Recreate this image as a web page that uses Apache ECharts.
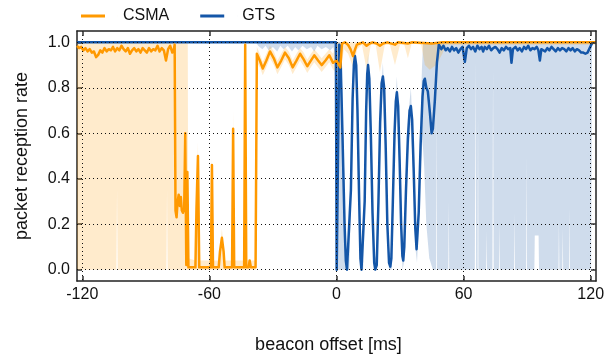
<!DOCTYPE html>
<html><head><meta charset="utf-8">
<script src="https://cdn.jsdelivr.net/npm/echarts@6/dist/echarts.min.js"></script>
<style>html,body{margin:0;padding:0;background:#fff}#c{width:616px;height:360px}</style>
</head><body><div id="c"></div>
<script>
const xTicks = [-120, -60, 0, 60, 120];
const yTicks = [0, 0.2, 0.4, 0.6, 0.8, 1.0];
const seriesNames = ['CSMA', 'GTS'];

const csmaLine = [[-122.5,0.985],[-121.5,0.975],[-120.5,0.98],[-119.5,0.965],[-118.5,0.975],[-117.5,0.96],[-116.5,0.97],[-115.5,0.955],[-114.5,0.96],[-113.5,0.935],[-112.5,0.945],[-111.5,0.965],[-110.5,0.955],[-109.5,0.975],[-108.5,0.96],[-107.5,0.97],[-106.5,0.965],[-105.5,0.98],[-104.5,0.96],[-103.5,0.975],[-102.5,0.965],[-101.5,0.985],[-100.5,0.97],[-99.5,0.96],[-98.5,0.975],[-97.5,0.95],[-96.5,0.965],[-95.5,0.975],[-94.5,0.96],[-93.5,0.97],[-92.5,0.955],[-91.5,0.975],[-90.5,0.965],[-89.5,0.955],[-88.5,0.975],[-87.5,0.96],[-86.5,0.97],[-85.5,0.965],[-84.5,0.985],[-83.5,0.96],[-82.5,0.975],[-81.5,0.965],[-80.5,0.92],[-79.5,0.97],[-78.5,0.985],[-77.5,0.955],[-76.8,0.97],[-76.4,0.99],[-76.0,0.26],[-75.5,0.23],[-75.0,0.30],[-74.5,0.33],[-74.0,0.28],[-73.5,0.32],[-73.0,0.26],[-72.5,0.25],[-71.9,0.27],[-71.4,0.6],[-70.9,0.02],[-70.4,0.43],[-69.9,0.01],[-66.6,0.01],[-66.1,0.27],[-65.4,0.5],[-64.8,0.01],[-59.3,0.01],[-58.8,0.46],[-58.3,0.01],[-55.6,0.01],[-55.0,0.08],[-54.1,0.14],[-53.3,0.08],[-52.8,0.01],[-49.3,0.01],[-48.8,0.62],[-48.3,0.01],[-43.6,0.01],[-43.1,0.99],[-42.6,0.01],[-41.5,0.01],[-41.0,0.04],[-40.4,0.01],[-38.2,0.01],[-37.6,0.95],[-36.2,0.92],[-34.8,0.885],[-33.1,0.92],[-31.4,0.96],[-29.6,0.93],[-27.9,0.89],[-26.1,0.92],[-24.3,0.955],[-22.5,0.93],[-20.7,0.89],[-18.9,0.92],[-17.2,0.95],[-15.5,0.925],[-13.8,0.895],[-12.1,0.92],[-10.5,0.943],[-8.7,0.92],[-7.0,0.90],[-5.2,0.92],[-3.4,0.943],[-1.6,0.91],[0.0,0.92],[1.8,0.89],[2.6,0.995],[4.0,1.0],[5.4,0.99],[6.6,0.97],[7.8,0.94],[8.8,0.97],[9.6,0.99],[11.0,0.995],[12.5,1.0],[14.2,0.985],[15.6,0.995],[17.0,1.0],[19.0,0.995],[20.5,0.985],[22.0,0.995],[24.0,1.0],[27.6,0.99],[29.0,1.0],[33.7,0.995],[35.5,1.0],[45.0,0.995],[50.0,1.0],[122.5,1.0]];

const csmaHigh = [[-122.5,1.0],[-70.2,1.0],[-70.0,0.05],[-66.6,0.04],[-66.1,0.3],[-65.4,0.56],[-64.8,0.04],[-59.3,0.04],[-58.8,0.5],[-58.3,0.04],[-55.6,0.04],[-54.1,0.18],[-52.8,0.04],[-49.3,0.04],[-48.8,0.7],[-48.3,0.04],[-43.6,0.04],[-43.1,1.0],[-42.6,0.04],[-38.2,0.04],[-37.6,0.98],[-36.2,0.95],[-34.8,0.915],[-33.1,0.95],[-31.4,0.985],[-29.6,0.96],[-27.9,0.92],[-26.1,0.95],[-24.3,0.98],[-22.5,0.96],[-20.7,0.92],[-18.9,0.95],[-17.2,0.975],[-15.5,0.955],[-13.8,0.925],[-12.1,0.95],[-10.5,0.97],[-8.7,0.95],[-7.0,0.93],[-5.2,0.95],[-3.4,0.97],[-1.6,0.95],[0.0,1.0],[122.5,1.0]];

const csmaLow = [[-122.5,0],[-103.9,0],[-103.6,0.35],[-103.3,0],[-80.3,0],[-80.0,0.35],[-79.7,0],[-38.2,0],[-37.6,0.91],[-36.2,0.89],[-34.8,0.855],[-33.1,0.89],[-31.4,0.93],[-29.6,0.9],[-27.9,0.86],[-26.1,0.89],[-24.3,0.925],[-22.5,0.9],[-20.7,0.86],[-18.9,0.89],[-17.2,0.92],[-15.5,0.895],[-13.8,0.865],[-12.1,0.89],[-10.5,0.913],[-8.7,0.89],[-7.0,0.87],[-5.2,0.89],[-3.4,0.913],[-1.6,0.88],[0.0,0.87],[1.8,0.86],[3.5,0.97],[5.5,0.95],[7.8,0.89],[9.8,0.97],[12.0,0.99],[14.2,0.88],[16.2,0.99],[18.5,0.99],[20.5,0.87],[22.8,0.99],[25.2,0.99],[27.6,0.9],[30.0,0.99],[32.0,0.99],[33.7,0.93],[35.5,0.995],[40.0,0.99],[41.7,0.9],[44.0,0.88],[47.0,0.9],[50.0,0.95],[51.5,0.99],[122.5,0.99]];

const gtsLine = [[-122.5,1.0],[-0.3,1.0],[0.1,0.0],[0.8,0.0],[1.3,0.99],[1.8,0.98],[2.8,0.6],[3.8,0.2],[4.4,0.04],[4.95,0.0],[5.8,0.0],[6.8,0.35],[7.6,0.75],[8.2,0.9],[8.7,0.94],[9.3,0.9],[9.9,0.7],[10.6,0.35],[11.3,0.05],[11.8,0.0],[12.6,0.0],[13.3,0.3],[14.0,0.7],[14.5,0.86],[14.9,0.90],[15.5,0.84],[16.2,0.6],[17.0,0.25],[17.8,0.03],[18.3,0.0],[19.0,0.02],[19.8,0.3],[20.6,0.65],[21.3,0.82],[21.9,0.85],[22.5,0.8],[23.2,0.55],[24.0,0.2],[24.8,0.03],[25.4,0.013],[25.9,0.05],[26.6,0.3],[27.4,0.6],[28.0,0.74],[28.5,0.78],[29.1,0.72],[29.8,0.48],[30.5,0.2],[31.1,0.06],[31.5,0.04],[32.0,0.1],[32.8,0.35],[33.7,0.58],[34.5,0.7],[35.1,0.72],[35.7,0.66],[36.4,0.45],[37.2,0.18],[37.8,0.09],[38.2,0.09],[38.8,0.25],[39.7,0.55],[40.6,0.76],[41.2,0.83],[41.7,0.84],[42.4,0.8],[43.1,0.785],[44.1,0.69],[44.9,0.6],[45.5,0.62],[46.4,0.74],[47.4,0.91],[48.3,0.99],[49.5,0.97],[50.5,0.985],[51.5,0.965],[52.5,0.975],[53.5,0.96],[54.5,0.98],[55.5,0.965],[56.5,0.975],[57.5,0.955],[58.5,0.97],[59.5,0.98],[60.6,0.914],[61.5,0.975],[62.5,0.985],[63.5,0.97],[64.5,0.98],[65.5,0.96],[66.5,0.985],[67.5,0.97],[68.5,0.98],[69.2,0.96],[70.0,0.98],[71.0,0.97],[72.0,0.985],[73.0,0.965],[74.0,0.975],[75.0,0.98],[76.0,0.97],[77.0,0.955],[78.0,0.975],[79.0,0.965],[80.0,0.98],[81.0,0.97],[82.0,0.975],[82.6,0.91],[83.3,0.97],[84.5,0.98],[85.5,0.965],[86.5,0.975],[87.5,0.96],[88.5,0.98],[89.5,0.97],[90.5,0.985],[91.5,0.965],[92.5,0.975],[93.5,0.97],[94.5,0.98],[95.3,0.965],[96.0,0.92],[96.7,0.97],[97.5,0.975],[98.5,0.96],[99.5,0.975],[100.5,0.965],[101.5,0.98],[102.5,0.97],[103.5,0.96],[104.5,0.975],[105.5,0.965],[106.5,0.975],[107.5,0.97],[108.5,0.96],[109.5,0.975],[110.5,0.965],[111.5,0.975],[112.5,0.96],[113.5,0.97],[114.5,0.965],[115.5,0.955],[116.5,0.955],[117.5,0.95],[118.5,0.955],[119.3,0.96],[120.3,0.99],[121.0,1.0],[122.5,1.0]];

const gtsHigh = [[-122.5,1.0],[1.8,1.0],[2.8,0.75],[3.8,0.35],[4.5,0.1],[5.8,0.04],[6.8,0.45],[7.6,0.85],[8.7,0.98],[9.9,0.8],[10.6,0.45],[11.3,0.1],[12.6,0.04],[13.3,0.4],[14.0,0.78],[14.9,0.95],[16.2,0.68],[17.0,0.33],[17.8,0.07],[18.6,0.05],[19.8,0.38],[20.6,0.73],[21.9,0.91],[23.2,0.63],[24.0,0.28],[24.8,0.08],[25.6,0.07],[26.6,0.38],[27.4,0.68],[28.5,0.85],[29.8,0.56],[30.5,0.28],[31.3,0.12],[32.0,0.17],[32.8,0.43],[33.7,0.66],[35.1,0.8],[36.4,0.53],[37.2,0.26],[37.8,0.16],[38.5,0.25],[39.7,0.63],[40.3,0.88],[40.9,1.0],[122.5,1.0]];

const gtsLow = [[-122.5,1.0],[-38.0,1.0],[-37.0,0.985],[-35.0,0.97],[-33.5,0.985],[-32.0,0.965],[-30.0,0.98],[-28.0,0.96],[-26.5,0.985],[-25.0,0.97],[-23.0,0.985],[-21.0,0.96],[-19.5,0.98],[-18.0,0.965],[-16.0,0.985],[-14.0,0.97],[-12.0,0.98],[-10.5,0.96],[-9.0,0.985],[-7.0,0.97],[-5.0,0.98],[-3.0,0.965],[-1.5,0.98],[-0.8,0.95],[-0.6,0.0],[6.0,0.0],[6.8,0.27],[7.6,0.66],[8.7,0.9],[9.9,0.62],[10.6,0.27],[11.3,0.0],[12.6,0.0],[13.3,0.22],[14.0,0.62],[14.9,0.85],[16.2,0.52],[17.0,0.18],[17.8,0.0],[19.0,0.0],[19.8,0.23],[20.6,0.58],[21.9,0.79],[23.2,0.47],[24.0,0.13],[24.8,0.0],[26.0,0.0],[26.6,0.23],[27.4,0.52],[28.5,0.71],[29.8,0.4],[30.5,0.13],[31.2,0.0],[32.0,0.04],[32.8,0.28],[33.7,0.5],[35.1,0.64],[36.4,0.37],[37.2,0.1],[38.0,0.03],[38.8,0.18],[39.7,0.45],[40.6,0.57],[41.4,0.45],[42.4,0.2],[43.8,0.05],[45.5,0.0],[47.0,0.0],[47.2,0.7],[47.4,0.0],[52.8,0.0],[53.0,0.3],[53.2,0.0],[65.3,0.0],[65.6,0.92],[65.9,0.0],[66.6,0.0],[66.8,0.7],[67.0,0.0],[70.6,0.0],[70.8,0.17],[71.0,0.0],[73.6,0.0],[73.9,0.88],[74.2,0.0],[76.8,0.0],[77.0,0.2],[77.2,0.0],[83.8,0.0],[84.0,0.25],[84.2,0.0],[89.5,0.0],[89.7,0.5],[89.9,0.0],[93.4,0.0],[93.6,0.15],[95.4,0.15],[95.6,0.0],[104.8,0.0],[105.0,0.22],[105.2,0.0],[106.6,0.0],[106.8,0.18],[107.0,0.0],[109.8,0.0],[110.0,0.27],[110.2,0.0],[120.2,0.0],[120.6,0.99],[122.5,1.0]];

const ORANGE = '#ff9900', BLUE = '#1456a8';
const FONT = 'Liberation Sans, Arial, Helvetica, sans-serif';

function band(name, lo, hi, color, z) {
  return {
    type: 'custom', name: name, silent: true, clip: true, z: z,
    xAxisIndex: 0, yAxisIndex: 0,
    data: [[0, 0]],
    renderItem: function (params, api) {
      const pts = hi.map(p => api.coord(p)).concat(lo.slice().reverse().map(p => api.coord(p)));
      return { type: 'polygon', shape: { points: pts }, style: { fill: color } };
    }
  };
}

const axisLineStyle = { color: '#222', width: 1.5 };
const gridLineStyle = { color: '#111', width: 1, type: [1, 3] };

const chart = echarts.init(document.getElementById('c'), null, { renderer: 'canvas' });
chart.setOption({
  animation: false,
  backgroundColor: '#fff',
  textStyle: { fontFamily: FONT, color: '#111' },
  legend: {
    data: seriesNames,
    left: 76, top: 3,
    itemWidth: 37, itemHeight: 3, itemGap: 31,
    icon: 'path://M0,0h24v3h-24zM37,0h0.01v3h-0.01z',
    textStyle: { fontSize: 16, fontFamily: FONT, color: '#111' },
    selectedMode: false
  },
  grid: { left: 77, right: 20, top: 31, bottom: 79, containLabel: false },
  xAxis: [{
    type: 'value', position: 'bottom', min: -122.5, max: 122.5,
    name: 'beacon offset [ms]', nameLocation: 'middle', nameGap: 55,
    nameTextStyle: { fontSize: 18, fontFamily: FONT, color: '#111', padding: [0, 16, 0, 0] },
    axisLine: { show: true, onZero: false, lineStyle: axisLineStyle },
    axisTick: { show: true, inside: true, length: 5, customValues: xTicks, lineStyle: { color: '#333', width: 1.5 } },
    axisLabel: { show: true, customValues: xTicks, fontSize: 16, fontFamily: FONT, color: '#111', margin: 6, formatter: v => String(v) },
    splitLine: { show: false }
  }, {
    type: 'value', position: 'top', min: -122.5, max: 122.5, z: 5,
    axisLine: { show: true, onZero: false, lineStyle: axisLineStyle },
    axisTick: { show: true, inside: true, length: 5, customValues: xTicks, lineStyle: { color: '#333', width: 1.5 } },
    axisLabel: { show: false },
    splitLine: { show: true, lineStyle: gridLineStyle }
  }],
  yAxis: [{
    type: 'value', position: 'left', min: -0.05, max: 1.05,
    name: 'packet reception rate', nameLocation: 'middle', nameGap: 46,
    nameTextStyle: { fontSize: 18, fontFamily: FONT, color: '#111' },
    axisLine: { show: true, onZero: false, lineStyle: axisLineStyle },
    axisTick: { show: true, inside: true, length: 5, customValues: yTicks, lineStyle: { color: '#333', width: 1.5 } },
    axisLabel: { show: true, customValues: yTicks, fontSize: 16, fontFamily: FONT, color: '#111', margin: 7, formatter: v => v.toFixed(1) },
    splitLine: { show: false }
  }, {
    type: 'value', position: 'right', min: -0.05, max: 1.05, z: 5,
    axisLine: { show: true, onZero: false, lineStyle: axisLineStyle },
    axisTick: { show: true, inside: true, length: 5, customValues: yTicks, lineStyle: { color: '#333', width: 1.5 } },
    axisLabel: { show: false },
    splitLine: { show: true, lineStyle: gridLineStyle }
  }],
  series: [
    band('GTS band', gtsLow, gtsHigh, 'rgba(16,80,160,0.2)', 1),
    band('CSMA band', csmaLow, csmaHigh, 'rgba(255,153,0,0.2)', 1),
    { name: 'GTS', type: 'line', xAxisIndex: 0, yAxisIndex: 0, data: gtsLine, showSymbol: false, symbol: 'none', z: 2,
      color: BLUE, lineStyle: { color: BLUE, width: 2.5, join: 'round' } },
    { name: 'CSMA', type: 'line', xAxisIndex: 0, yAxisIndex: 0, data: csmaLine, showSymbol: false, symbol: 'none', z: 3,
      color: ORANGE, lineStyle: { color: ORANGE, width: 2.5, join: 'round' } }
  ]
});
</script></body></html>
